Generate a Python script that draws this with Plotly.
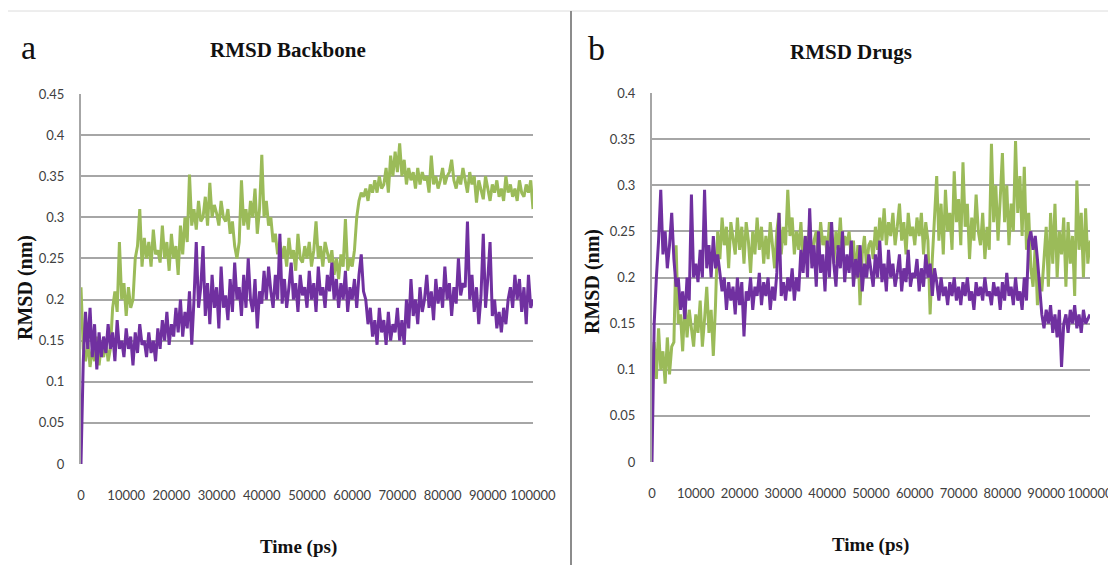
import plotly.graph_objects as go

# ---------------- data ----------------
time_ps = list(range(0, 100001, 500))

backbone_green = [
    0.215, 0.14, 0.125, 0.15, 0.118, 0.14, 0.125, 0.155, 0.12, 0.145,
    0.13, 0.15, 0.125, 0.14, 0.19, 0.21, 0.185, 0.27, 0.2, 0.22,
    0.18, 0.215, 0.19, 0.2, 0.25, 0.265, 0.31, 0.24, 0.275, 0.25,
    0.27, 0.24, 0.285, 0.255, 0.26, 0.245, 0.29, 0.25, 0.27, 0.235,
    0.28, 0.25, 0.265, 0.23, 0.29, 0.255, 0.3, 0.27, 0.352, 0.29,
    0.31, 0.285, 0.32, 0.295, 0.3, 0.325, 0.29, 0.342, 0.3, 0.315,
    0.305, 0.29, 0.32, 0.3, 0.295, 0.31, 0.28, 0.295, 0.265, 0.25,
    0.27, 0.345, 0.29, 0.31, 0.285, 0.32, 0.3, 0.335, 0.28, 0.31,
    0.376, 0.3, 0.32, 0.29, 0.3, 0.27, 0.28, 0.255, 0.27, 0.25,
    0.265, 0.24, 0.275, 0.25, 0.26, 0.235, 0.28, 0.25, 0.245, 0.265,
    0.25, 0.27, 0.24, 0.26, 0.295, 0.25, 0.265, 0.24, 0.27, 0.255,
    0.245, 0.26, 0.23, 0.25, 0.225, 0.255, 0.24, 0.298, 0.235, 0.25,
    0.24, 0.26, 0.3, 0.32, 0.33, 0.325, 0.335, 0.32, 0.34, 0.33,
    0.345, 0.33, 0.35, 0.335, 0.34, 0.36, 0.33, 0.375, 0.35, 0.38,
    0.355, 0.39, 0.35, 0.37, 0.34, 0.36, 0.345, 0.355, 0.335, 0.36,
    0.34, 0.355, 0.345, 0.35, 0.33, 0.375, 0.34, 0.35, 0.335, 0.345,
    0.36, 0.34, 0.35, 0.355, 0.37, 0.345, 0.335, 0.35, 0.34, 0.36,
    0.345, 0.33, 0.355, 0.34, 0.35, 0.318, 0.345, 0.335, 0.322, 0.35,
    0.335, 0.32, 0.34, 0.33, 0.345, 0.325, 0.335, 0.32, 0.35, 0.33,
    0.34, 0.325, 0.335, 0.32, 0.345, 0.33, 0.325, 0.34, 0.33, 0.345,
    0.31,
]

backbone_purple = [
    0.0, 0.125, 0.185, 0.14, 0.19, 0.13, 0.17, 0.115, 0.16, 0.13,
    0.155, 0.135, 0.17, 0.14, 0.16, 0.125, 0.175, 0.14, 0.15, 0.13,
    0.165, 0.14, 0.155, 0.12, 0.16, 0.135, 0.17, 0.145, 0.15, 0.13,
    0.16, 0.135, 0.15, 0.125, 0.165, 0.14, 0.175, 0.15, 0.185, 0.145,
    0.17, 0.155, 0.19, 0.16, 0.2, 0.155, 0.185, 0.165, 0.21, 0.145,
    0.2, 0.27, 0.19, 0.215, 0.265, 0.18, 0.22, 0.17, 0.23, 0.19,
    0.215, 0.165, 0.24, 0.19, 0.205, 0.175, 0.225, 0.185, 0.245, 0.2,
    0.215, 0.18, 0.23, 0.19, 0.25, 0.2, 0.185, 0.225, 0.165, 0.21,
    0.195, 0.235, 0.2, 0.24, 0.21, 0.19, 0.23, 0.2, 0.28, 0.195,
    0.225, 0.19, 0.215, 0.245, 0.2, 0.22, 0.185, 0.23, 0.205, 0.215,
    0.19, 0.235, 0.2, 0.22, 0.185, 0.24, 0.205, 0.215, 0.19, 0.23,
    0.21, 0.245, 0.2, 0.225, 0.19, 0.22, 0.2, 0.235, 0.185, 0.215,
    0.2, 0.225, 0.19, 0.23, 0.255, 0.21, 0.2, 0.17, 0.19, 0.155,
    0.175, 0.145, 0.19, 0.16, 0.175, 0.145, 0.185, 0.15, 0.17, 0.16,
    0.19, 0.15, 0.175, 0.145, 0.2, 0.165, 0.225, 0.18, 0.2, 0.17,
    0.215, 0.185, 0.2, 0.23, 0.19, 0.21, 0.175, 0.225, 0.195, 0.215,
    0.19, 0.24, 0.2, 0.22, 0.18, 0.215, 0.195, 0.25, 0.205, 0.22,
    0.215, 0.295, 0.2, 0.23, 0.185, 0.215, 0.17, 0.205, 0.28, 0.19,
    0.225, 0.27, 0.18, 0.2, 0.165, 0.185, 0.16, 0.19, 0.17, 0.2,
    0.215, 0.19, 0.23, 0.2, 0.225, 0.185, 0.215, 0.17, 0.23, 0.19,
    0.2,
]

drugs_green = [
    0.1, 0.13, 0.09, 0.145, 0.1, 0.12, 0.085, 0.135, 0.095, 0.125,
    0.13, 0.235, 0.15, 0.16, 0.12, 0.175, 0.135, 0.165, 0.145, 0.125,
    0.16, 0.14, 0.175, 0.125, 0.155, 0.19, 0.14, 0.165, 0.115, 0.17,
    0.25, 0.22, 0.265, 0.235, 0.255, 0.21, 0.26, 0.24, 0.225, 0.265,
    0.23, 0.255, 0.215, 0.26, 0.24, 0.205, 0.25, 0.225, 0.265, 0.23,
    0.255, 0.215, 0.245, 0.22, 0.26, 0.235, 0.21, 0.25, 0.27, 0.225,
    0.255, 0.235, 0.295, 0.245, 0.265, 0.225, 0.25, 0.23, 0.26, 0.215,
    0.245, 0.225, 0.26, 0.215, 0.24, 0.25, 0.22, 0.26, 0.235, 0.245,
    0.225, 0.26, 0.24, 0.215, 0.25, 0.23, 0.265, 0.22, 0.245, 0.235,
    0.25, 0.22, 0.24, 0.2, 0.235, 0.17, 0.225, 0.245, 0.21, 0.235,
    0.24, 0.22, 0.255, 0.23, 0.265, 0.24, 0.275, 0.235, 0.26, 0.245,
    0.27, 0.235, 0.255, 0.28, 0.24, 0.26, 0.225, 0.27, 0.245, 0.255,
    0.235, 0.265, 0.245, 0.27, 0.225, 0.26, 0.24, 0.16, 0.22, 0.27,
    0.31, 0.24, 0.28, 0.225, 0.295, 0.25, 0.27, 0.23, 0.315, 0.26,
    0.285, 0.235, 0.325, 0.255, 0.28, 0.22, 0.265, 0.24, 0.29, 0.25,
    0.235, 0.27, 0.22, 0.255, 0.23, 0.345, 0.26, 0.3, 0.24, 0.285,
    0.335, 0.26, 0.3, 0.235, 0.28, 0.25, 0.348, 0.27, 0.31, 0.245,
    0.32, 0.23, 0.27, 0.21, 0.19, 0.235, 0.17, 0.2, 0.185, 0.22,
    0.255, 0.19, 0.27, 0.215, 0.28, 0.2, 0.25, 0.225, 0.265, 0.19,
    0.26, 0.215, 0.245, 0.18, 0.305, 0.23, 0.27, 0.2, 0.275, 0.215,
    0.24,
]

drugs_purple = [
    0.0, 0.15, 0.2, 0.24, 0.295, 0.225, 0.25, 0.21, 0.235, 0.27,
    0.22, 0.19, 0.2, 0.165, 0.185, 0.155, 0.2, 0.175, 0.29, 0.2,
    0.215, 0.195, 0.23, 0.2, 0.295, 0.21, 0.235, 0.2, 0.245, 0.21,
    0.225, 0.205, 0.185, 0.2, 0.165, 0.195, 0.175, 0.19, 0.16, 0.2,
    0.17, 0.195, 0.136, 0.185, 0.175, 0.2, 0.165, 0.19, 0.18, 0.205,
    0.17, 0.195, 0.18, 0.2, 0.165, 0.19, 0.175, 0.205, 0.27, 0.18,
    0.195, 0.175, 0.2, 0.185, 0.21, 0.175, 0.2, 0.185, 0.23, 0.205,
    0.245, 0.2, 0.275, 0.21, 0.235, 0.19, 0.25, 0.205, 0.225, 0.185,
    0.24, 0.2, 0.26, 0.215, 0.19, 0.235, 0.21, 0.25, 0.195, 0.225,
    0.205, 0.24, 0.19, 0.22, 0.2, 0.235, 0.185, 0.215, 0.2, 0.225,
    0.21, 0.19, 0.225, 0.2, 0.24, 0.195, 0.215, 0.185, 0.23, 0.2,
    0.215, 0.19, 0.205, 0.225, 0.185, 0.21, 0.195, 0.23, 0.19, 0.205,
    0.2, 0.22, 0.185, 0.21, 0.19, 0.225, 0.2, 0.215, 0.18, 0.21,
    0.195, 0.175, 0.2, 0.18, 0.19, 0.17, 0.195, 0.18, 0.2, 0.175,
    0.19, 0.17, 0.195, 0.18, 0.2, 0.175, 0.185, 0.165, 0.195, 0.18,
    0.19, 0.175, 0.2, 0.18, 0.185, 0.17, 0.195, 0.18, 0.19, 0.165,
    0.195, 0.175, 0.205, 0.18, 0.19, 0.17, 0.2, 0.175, 0.185, 0.165,
    0.2, 0.175, 0.24, 0.25, 0.23, 0.245, 0.22, 0.19, 0.16, 0.145,
    0.165, 0.15, 0.17, 0.14, 0.16, 0.135, 0.165, 0.103, 0.15, 0.16,
    0.14, 0.165, 0.15, 0.17, 0.145, 0.16, 0.14, 0.165, 0.15, 0.155,
    0.16,
]

x_tick_vals = [0, 10000, 20000, 30000, 40000, 50000, 60000, 70000, 80000, 90000, 100000]
x_tick_text = ["0", "10000", "20000", "30000", "40000", "50000", "60000", "70000", "80000", "90000", "100000"]
ya_tick_vals = [0, 0.05, 0.1, 0.15, 0.2, 0.25, 0.3, 0.35, 0.4, 0.45]
ya_tick_text = ["0", "0.05", "0.1", "0.15", "0.2", "0.25", "0.3", "0.35", "0.4", "0.45"]
yb_tick_vals = [0, 0.05, 0.1, 0.15, 0.2, 0.25, 0.3, 0.35, 0.4]
yb_tick_text = ["0", "0.05", "0.1", "0.15", "0.2", "0.25", "0.3", "0.35", "0.4"]

# ---------------- style ----------------
OFF = 8  # page body margin
W, H = 1116 - OFF, 565 - OFF
GREEN = "#9BBB59"
PURPLE = "#7030A0"
GRID = "#a6a6a6"
TICKFONT = dict(family="Lato, Liberation Sans, sans-serif", size=13, color="#404040")
SERIF = "Liberation Serif, Times New Roman, serif"
LW = 3


def px(x):
    return (x - OFF) / W


def py(y):
    return 1 - (y - OFF) / H


fig = go.Figure()

fig.add_trace(go.Scatter(x=time_ps, y=backbone_green, mode="lines",
                         line=dict(color=GREEN, width=LW), xaxis="x", yaxis="y", showlegend=False))
fig.add_trace(go.Scatter(x=time_ps, y=backbone_purple, mode="lines",
                         line=dict(color=PURPLE, width=LW), xaxis="x", yaxis="y", showlegend=False))
fig.add_trace(go.Scatter(x=time_ps, y=drugs_green, mode="lines",
                         line=dict(color=GREEN, width=LW), xaxis="x2", yaxis="y2", showlegend=False))
fig.add_trace(go.Scatter(x=time_ps, y=drugs_purple, mode="lines",
                         line=dict(color=PURPLE, width=LW), xaxis="x2", yaxis="y2", showlegend=False))

xcommon = dict(range=[0, 100000], tickmode="array", tickvals=x_tick_vals, ticktext=x_tick_text,
               showgrid=False, zeroline=False, showline=False, ticks="", tickfont=TICKFONT,
               tickangle=0, automargin=False, ticklabelstandoff=22, ticklabeloverflow="allow")
ycommon = dict(tickmode="array", showgrid=True, gridcolor=GRID, gridwidth=2, zeroline=False,
               showline=True, linecolor=GRID, linewidth=2, ticks="", tickfont=TICKFONT,
               automargin=False, ticklabelstandoff=12)

fig.update_layout(
    width=W, height=H,
    autosize=False,
    margin=dict(l=0, r=0, t=0, b=0, pad=0, autoexpand=False),
    paper_bgcolor="white", plot_bgcolor="white",
    xaxis=dict(domain=[px(81), px(533)], anchor="y", **xcommon),
    yaxis=dict(domain=[py(464), py(94)], range=[0, 0.45], anchor="x",
               tickvals=ya_tick_vals, ticktext=ya_tick_text, **ycommon),
    xaxis2=dict(domain=[px(652), px(1090)], anchor="y2", **xcommon),
    yaxis2=dict(domain=[py(462), py(93)], range=[0, 0.4], anchor="x2",
                tickvals=yb_tick_vals, ticktext=yb_tick_text, **ycommon),
)

# frame lines
shapes = [
    dict(type="line", xref="paper", yref="paper", x0=px(7), x1=1, y0=py(11), y1=py(11),
         line=dict(color="#dcdcdc", width=1)),
    dict(type="line", xref="paper", yref="paper", x0=px(571), x1=px(571), y0=0, y1=py(11),
         line=dict(color="#8c8c8c", width=2)),
]
fig.update_layout(shapes=shapes)

annotations = [
    dict(text="a", x=px(28), y=py(47), font=dict(family=SERIF, size=34, color="#111")),
    dict(text="b", x=px(596), y=py(48), font=dict(family=SERIF, size=34, color="#111")),
    dict(text="<b>RMSD Backbone</b>", x=px(288), y=py(50), font=dict(family=SERIF, size=21, color="#111")),
    dict(text="<b>RMSD Drugs</b>", x=px(851), y=py(52), font=dict(family=SERIF, size=21, color="#111")),
    dict(text="<b>Time (ps)</b>", x=px(298), y=py(547), font=dict(family=SERIF, size=19, color="#111")),
    dict(text="<b>Time (ps)</b>", x=px(870), y=py(545), font=dict(family=SERIF, size=19, color="#111")),
    dict(text="<b>RMSD (nm)</b>", x=px(25), y=py(288), textangle=-90, font=dict(family=SERIF, size=20, color="#111")),
    dict(text="<b>RMSD (nm)</b>", x=px(592), y=py(282), textangle=-90, font=dict(family=SERIF, size=20, color="#111")),
]
for a in annotations:
    a.update(xref="paper", yref="paper", showarrow=False, xanchor="center", yanchor="middle")
fig.update_layout(annotations=annotations)

fig.write_html("out.html", config={"responsive": False})
